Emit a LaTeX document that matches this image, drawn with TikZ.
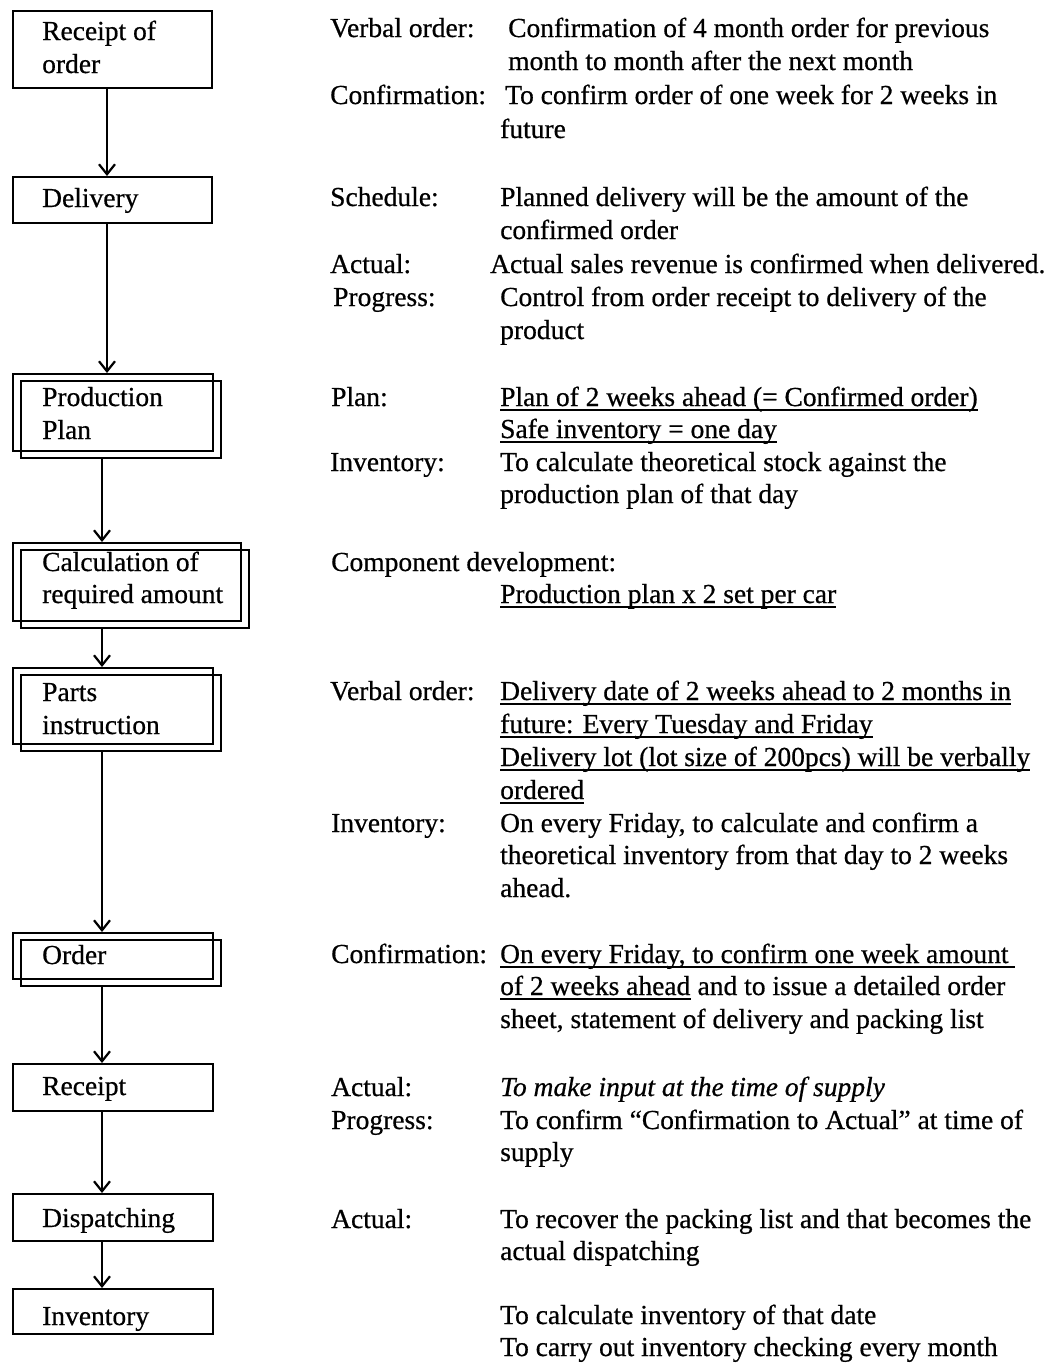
\documentclass[tikz,border=0pt]{standalone}
\usepackage{fontspec}
\setmainfont[FakeBold=0.6]{Liberation Serif}
\usetikzlibrary{arrows.meta,calc}

% underline a text node (below its baseline), optional extra length on the right
\newcommand\underlinenode[2][0pt]{%
  \draw[ulline] ([yshift=-4pt]#2.base west) -- ([yshift=-4pt,xshift=#1]#2.base east);}

\begin{document}
\begin{tikzpicture}[x=1pt,y=-1pt,
  boxshape/.style={draw, line width=2.2pt, rectangle, inner sep=0pt, anchor=north west},
  flow/.style={line width=2.6pt, -{Straight Barb[length=10pt,width=16pt,line width=2.2pt]}},
  txt/.style={anchor=base west, inner sep=0pt, font=\fontsize{27.5}{33}\selectfont},
  ulline/.style={line width=1.5pt},
]
\useasboundingbox[fill=white] (0,0) rectangle (1059,1363);

% ---------- process boxes ----------
\node[boxshape, minimum width=199pt, minimum height=77pt] (recv) at (12,10) {};
\node[boxshape, minimum width=199pt, minimum height=46pt] (deliv) at (12,176) {};
\node[boxshape, minimum width=200pt, minimum height=77pt] (prodA) at (12,373) {};
\node[boxshape, minimum width=200pt, minimum height=77pt] (prodB) at ($(prodA.north west)+(8,7)$) {};
\node[boxshape, minimum width=228pt, minimum height=78pt] (calcA) at (12,542) {};
\node[boxshape, minimum width=228pt, minimum height=78pt] (calcB) at ($(calcA.north west)+(8,7)$) {};
\node[boxshape, minimum width=200pt, minimum height=76pt] (partsA) at (12,667) {};
\node[boxshape, minimum width=200pt, minimum height=76pt] (partsB) at ($(partsA.north west)+(8,7)$) {};
\node[boxshape, minimum width=200pt, minimum height=46pt] (orderA) at (12,932) {};
\node[boxshape, minimum width=200pt, minimum height=46pt] (orderB) at ($(orderA.north west)+(8,7)$) {};
\node[boxshape, minimum width=200pt, minimum height=47pt] (rcpt) at (12,1063) {};
\node[boxshape, minimum width=200pt, minimum height=47pt] (disp) at (12,1193) {};
\node[boxshape, minimum width=200pt, minimum height=45pt] (inv) at (12,1288) {};

% ---------- box labels ----------
\node[txt] (recvT1) at (42,40) {Receipt of};
\node[txt] (recvT2) at (42,73) {order};
\node[txt] (delivT) at (42,207) {Delivery};
\node[txt] (prodT1) at (42,406) {Production};
\node[txt] (prodT2) at (42,439) {Plan};
\node[txt] (calcT1) at (42,571) {Calculation of};
\node[txt] (calcT2) at (42,603) {required amount};
\node[txt] (partsT1) at (42,701) {Parts};
\node[txt] (partsT2) at (42,734) {instruction};
\node[txt] (orderT) at (42,964) {Order};
\node[txt] (rcptT) at (42,1095) {Receipt};
\node[txt] (dispT) at (42,1227) {Dispatching};
\node[txt] (invT) at (42,1325) {Inventory};

% ---------- flow arrows ----------
\coordinate (axU) at (107,0);
\coordinate (axL) at (102,0);
\draw[flow] (recv.south -| axU) -- (deliv.north -| axU);
\draw[flow] (deliv.south -| axU) -- (prodA.north -| axU);
\draw[flow] (prodB.south -| axL) -- (calcA.north -| axL);
\draw[flow] (calcB.south -| axL) -- (partsA.north -| axL);
\draw[flow] (partsB.south -| axL) -- (orderA.north -| axL);
\draw[flow] (orderB.south -| axL) -- (rcpt.north -| axL);
\draw[flow] (rcpt.south -| axL) -- (disp.north -| axL);
\draw[flow] (disp.south -| axL) -- (inv.north -| axL);

% ---------- descriptions ----------
% receipt of order
\node[txt] (d1k1) at (330,37) {Verbal order:};
\node[txt] (d1v1) at (508,37) {Confirmation of 4 month order for previous};
\node[txt] (d1v2) at (508,70) {month to month after the next month};
\node[txt] (d1k2) at (330,104) {Confirmation:};
\node[txt] (d1v3) at (505,104) {To confirm order of one week for 2 weeks in};
\node[txt] (d1v4) at (500,138) {future};
% delivery
\node[txt] (d2k1) at (330,206) {Schedule:};
\node[txt] (d2v1) at (500,206) {Planned delivery will be the amount of the};
\node[txt] (d2v2) at (500,239) {confirmed order};
\node[txt] (d2k2) at (330,273) {Actual:};
\node[txt] (d2v3) at (490,273) {Actual sales revenue is confirmed when delivered.};
\node[txt] (d2k3) at (333,306) {Progress:};
\node[txt] (d2v4) at (500,306) {Control from order receipt to delivery of the};
\node[txt] (d2v5) at (500,339) {product};
% production plan
\node[txt] (d3k1) at (331,406) {Plan:};
\node[txt] (d3v1) at (500,406) {Plan of 2 weeks ahead (= Confirmed order)};
\node[txt] (d3v2) at (500,438) {Safe inventory = one day};
\node[txt] (d3k2) at (330,471) {Inventory:};
\node[txt] (d3v3) at (500,471) {To calculate theoretical stock against the};
\node[txt] (d3v4) at (500,503) {production plan of that day};
\underlinenode{d3v1}
\underlinenode{d3v2}
% calculation of required amount
\node[txt] (d4k1) at (331,571) {Component development:};
\node[txt] (d4v1) at (500,603) {Production plan x 2 set per car};
\underlinenode{d4v1}
% parts instruction
\node[txt] (d5k1) at (330,700) {Verbal order:};
\node[txt] (d5v1) at (500,700) {Delivery date of 2 weeks ahead to 2 months in};
\node[txt] (d5v2) at (500,733) {future: Every Tuesday and Friday};
\node[txt] (d5v3) at (500,766) {Delivery lot (lot size of 200pcs) will be verbally};
\node[txt] (d5v4) at (500,799) {ordered};
\underlinenode{d5v1}
\underlinenode{d5v2}
\underlinenode{d5v3}
\underlinenode{d5v4}
\node[txt] (d5k2) at (331,832) {Inventory:};
\node[txt] (d5v5) at (500,832) {On every Friday, to calculate and confirm a};
\node[txt] (d5v6) at (500,864) {theoretical inventory from that day to 2 weeks};
\node[txt] (d5v7) at (500,897) {ahead.};
% order
\node[txt] (d6k1) at (331,963) {Confirmation:};
\node[txt] (d6v1) at (500,963) {On every Friday, to confirm one week amount};
\node[txt] (d6v2) at (500,995) {of 2 weeks ahead};
\node[txt] (d6v2b) at (d6v2.base east) {\ and to issue a detailed order};
\node[txt] (d6v3) at (500,1028) {sheet, statement of delivery and packing list};
\underlinenode[6pt]{d6v1}
\underlinenode{d6v2}
% receipt
\node[txt] (d7k1) at (331,1096) {Actual:};
\node[txt] (d7v1) at (500,1096) {\itshape To make input at the time of supply};
\node[txt] (d7k2) at (331,1129) {Progress:};
\node[txt] (d7v2) at (500,1129) {To confirm “Confirmation to Actual” at time of};
\node[txt] (d7v3) at (500,1161) {supply};
% dispatching
\node[txt] (d8k1) at (331,1228) {Actual:};
\node[txt] (d8v1) at (500,1228) {To recover the packing list and that becomes the};
\node[txt] (d8v2) at (500,1260) {actual dispatching};
% inventory
\node[txt] (d9v1) at (500,1324) {To calculate inventory of that date};
\node[txt] (d9v2) at (500,1356) {To carry out inventory checking every month};
\end{tikzpicture}
\end{document}
